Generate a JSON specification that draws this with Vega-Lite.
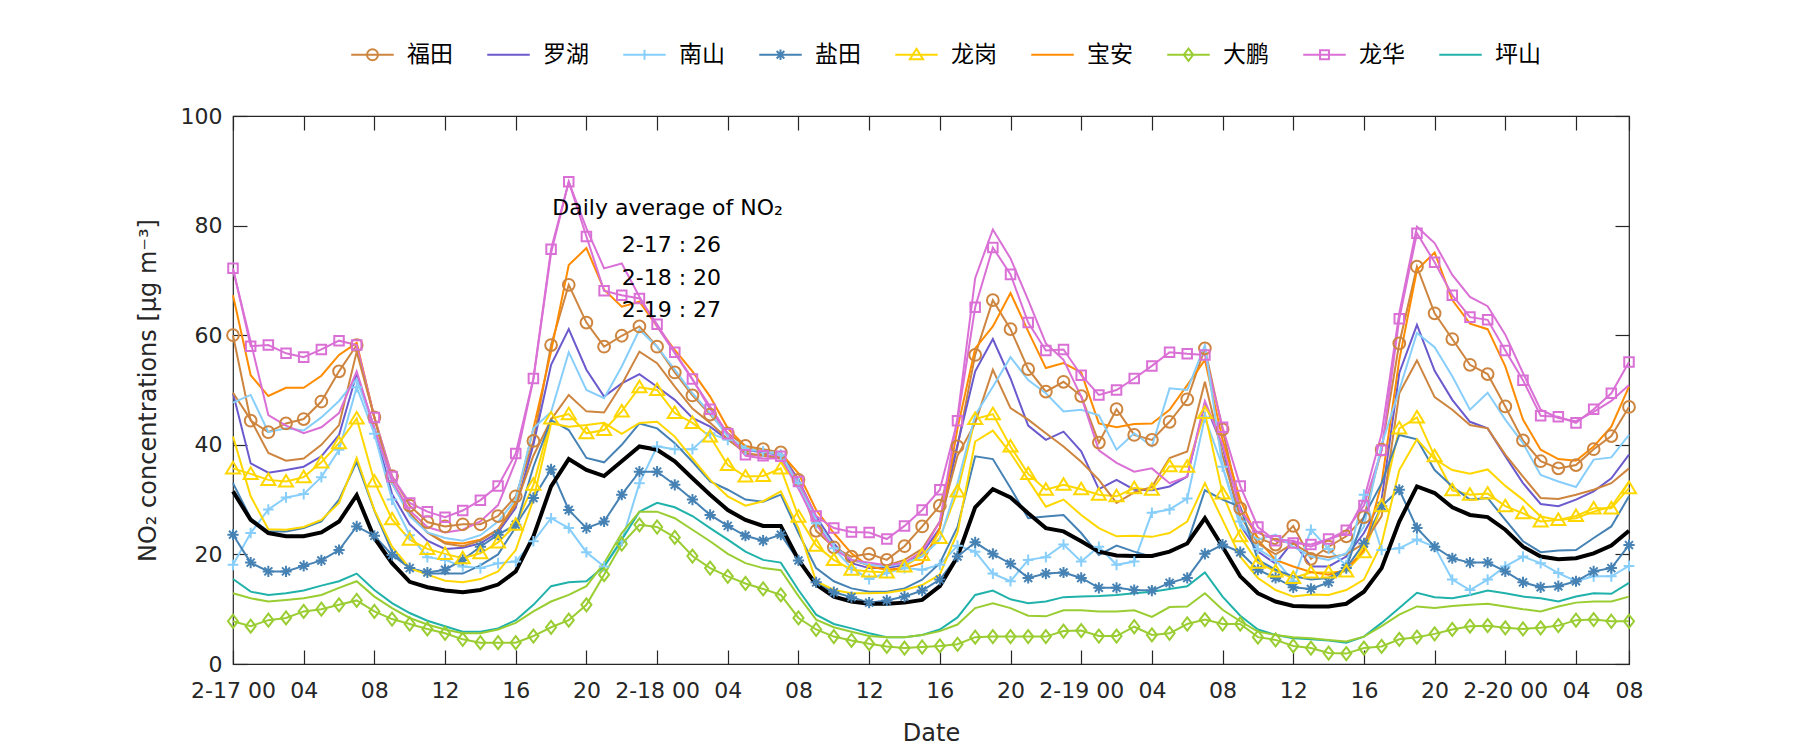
{
"$schema":"https://vega.github.io/schema/vega-lite/v6.json",
"width":1396,"height":548,
"autosize":{"type":"none"},
"padding":{"left":233,"top":116,"right":171,"bottom":86},
"background":"white",
"config":{"font":"DejaVu Sans","view":{"stroke":"#262626","strokeWidth":1.2},
"axis":{"labelFont":"DejaVu Sans","labelFontSize":22,"labelColor":"#262626","titleFont":"DejaVu Sans","titleFontSize":24,"titleFontWeight":"normal","titleColor":"#262626","tickColor":"#262626","tickWidth":1.2,"tickSize":-14,"domain":false,"grid":false,"labelOverlap":false}},
"data":{"values":[
{"s":"福田","h":0,"v":60.0},{"s":"福田","h":1,"v":44.4},{"s":"福田","h":2,"v":42.3},{"s":"福田","h":3,"v":43.9},{"s":"福田","h":4,"v":44.7},{"s":"福田","h":5,"v":47.9},{"s":"福田","h":6,"v":53.4},{"s":"福田","h":7,"v":58.2},{"s":"福田","h":8,"v":45.0},{"s":"福田","h":9,"v":34.3},
{"s":"福田","h":10,"v":28.9},{"s":"福田","h":11,"v":25.9},{"s":"福田","h":12,"v":25.1},{"s":"福田","h":13,"v":25.5},{"s":"福田","h":14,"v":25.5},{"s":"福田","h":15,"v":27.0},{"s":"福田","h":16,"v":30.6},{"s":"福田","h":17,"v":40.7},{"s":"福田","h":18,"v":58.2},{"s":"福田","h":19,"v":69.2},
{"s":"福田","h":20,"v":62.3},{"s":"福田","h":21,"v":57.9},{"s":"福田","h":22,"v":59.9},{"s":"福田","h":23,"v":61.6},{"s":"福田","h":24,"v":57.9},{"s":"福田","h":25,"v":53.2},{"s":"福田","h":26,"v":49.0},{"s":"福田","h":27,"v":45.5},{"s":"福田","h":28,"v":42.1},{"s":"福田","h":29,"v":39.8},
{"s":"福田","h":30,"v":39.2},{"s":"福田","h":31,"v":38.6},{"s":"福田","h":32,"v":33.6},{"s":"福田","h":33,"v":24.3},{"s":"福田","h":34,"v":21.3},{"s":"福田","h":35,"v":19.6},{"s":"福田","h":36,"v":20.1},{"s":"福田","h":37,"v":19.0},{"s":"福田","h":38,"v":21.5},{"s":"福田","h":39,"v":25.1},
{"s":"福田","h":40,"v":28.9},{"s":"福田","h":41,"v":39.7},{"s":"福田","h":42,"v":56.4},{"s":"福田","h":43,"v":66.4},{"s":"福田","h":44,"v":61.1},{"s":"福田","h":45,"v":53.8},{"s":"福田","h":46,"v":49.7},{"s":"福田","h":47,"v":51.5},{"s":"福田","h":48,"v":48.9},{"s":"福田","h":49,"v":40.4},
{"s":"福田","h":50,"v":46.5},{"s":"福田","h":51,"v":41.8},{"s":"福田","h":52,"v":40.9},{"s":"福田","h":53,"v":44.2},{"s":"福田","h":54,"v":48.3},{"s":"福田","h":55,"v":57.6},{"s":"福田","h":56,"v":42.8},{"s":"福田","h":57,"v":28.4},{"s":"福田","h":58,"v":23.0},{"s":"福田","h":59,"v":21.8},
{"s":"福田","h":60,"v":25.2},{"s":"福田","h":61,"v":19.2},{"s":"福田","h":62,"v":21.4},{"s":"福田","h":63,"v":23.3},{"s":"福田","h":64,"v":26.8},{"s":"福田","h":65,"v":39.1},{"s":"福田","h":66,"v":58.5},{"s":"福田","h":67,"v":72.5},{"s":"福田","h":68,"v":64.0},{"s":"福田","h":69,"v":59.3},
{"s":"福田","h":70,"v":54.6},{"s":"福田","h":71,"v":52.9},{"s":"福田","h":72,"v":47.0},{"s":"福田","h":73,"v":40.8},{"s":"福田","h":74,"v":37.0},{"s":"福田","h":75,"v":35.7},{"s":"福田","h":76,"v":36.3},{"s":"福田","h":77,"v":39.2},{"s":"福田","h":78,"v":41.6},{"s":"福田","h":79,"v":46.9},
{"s":"罗湖","h":0,"v":49.4},{"s":"罗湖","h":1,"v":36.6},{"s":"罗湖","h":2,"v":34.9},{"s":"罗湖","h":3,"v":35.4},{"s":"罗湖","h":4,"v":36.0},{"s":"罗湖","h":5,"v":37.9},{"s":"罗湖","h":6,"v":41.8},{"s":"罗湖","h":7,"v":53.0},{"s":"罗湖","h":8,"v":43},{"s":"罗湖","h":9,"v":31},
{"s":"罗湖","h":10,"v":25.5},{"s":"罗湖","h":11,"v":22.5},{"s":"罗湖","h":12,"v":21.0},{"s":"罗湖","h":13,"v":21.2},{"s":"罗湖","h":14,"v":22.0},{"s":"罗湖","h":15,"v":24.0},{"s":"罗湖","h":16,"v":28.5},{"s":"罗湖","h":17,"v":40},{"s":"罗湖","h":18,"v":54.6},{"s":"罗湖","h":19,"v":61.1},
{"s":"罗湖","h":20,"v":53.7},{"s":"罗湖","h":21,"v":48.8},{"s":"罗湖","h":22,"v":51.2},{"s":"罗湖","h":23,"v":52.9},{"s":"罗湖","h":24,"v":50.6},{"s":"罗湖","h":25,"v":48.2},{"s":"罗湖","h":26,"v":44.9},{"s":"罗湖","h":27,"v":43.3},{"s":"罗湖","h":28,"v":40.9},{"s":"罗湖","h":29,"v":39.1},
{"s":"罗湖","h":30,"v":38.6},{"s":"罗湖","h":31,"v":38.2},{"s":"罗湖","h":32,"v":33.6},{"s":"罗湖","h":33,"v":26.9},{"s":"罗湖","h":34,"v":22.0},{"s":"罗湖","h":35,"v":18.4},{"s":"罗湖","h":36,"v":17.5},{"s":"罗湖","h":37,"v":17.5},{"s":"罗湖","h":38,"v":18.1},{"s":"罗湖","h":39,"v":20.2},
{"s":"罗湖","h":40,"v":24.8},{"s":"罗湖","h":41,"v":40},{"s":"罗湖","h":42,"v":53.4},{"s":"罗湖","h":43,"v":59.3},{"s":"罗湖","h":44,"v":52.1},{"s":"罗湖","h":45,"v":43.5},{"s":"罗湖","h":46,"v":40.9},{"s":"罗湖","h":47,"v":42.4},{"s":"罗湖","h":48,"v":38.8},{"s":"罗湖","h":49,"v":31.9},
{"s":"罗湖","h":50,"v":33.6},{"s":"罗湖","h":51,"v":31.8},{"s":"罗湖","h":52,"v":31.7},{"s":"罗湖","h":53,"v":32.4},{"s":"罗湖","h":54,"v":34.2},{"s":"罗湖","h":55,"v":47.6},{"s":"罗湖","h":56,"v":39.7},{"s":"罗湖","h":57,"v":25.4},{"s":"罗湖","h":58,"v":20.5},{"s":"罗湖","h":59,"v":18.3},
{"s":"罗湖","h":60,"v":22.4},{"s":"罗湖","h":61,"v":17.8},{"s":"罗湖","h":62,"v":17.8},{"s":"罗湖","h":63,"v":19.6},{"s":"罗湖","h":64,"v":23.9},{"s":"罗湖","h":65,"v":30},{"s":"罗湖","h":66,"v":53.1},{"s":"罗湖","h":67,"v":61.9},{"s":"罗湖","h":68,"v":53.5},{"s":"罗湖","h":69,"v":48.2},
{"s":"罗湖","h":70,"v":44.2},{"s":"罗湖","h":71,"v":43.0},{"s":"罗湖","h":72,"v":37.9},{"s":"罗湖","h":73,"v":33.0},{"s":"罗湖","h":74,"v":29.2},{"s":"罗湖","h":75,"v":28.8},{"s":"罗湖","h":76,"v":30.0},{"s":"罗湖","h":77,"v":31.5},{"s":"罗湖","h":78,"v":33.9},{"s":"罗湖","h":79,"v":38.2},
{"s":"南山","h":0,"v":18.1},{"s":"南山","h":1,"v":23.9},{"s":"南山","h":2,"v":28.2},{"s":"南山","h":3,"v":30.4},{"s":"南山","h":4,"v":31.0},{"s":"南山","h":5,"v":34.1},{"s":"南山","h":6,"v":39.1},{"s":"南山","h":7,"v":50.5},{"s":"南山","h":8,"v":42},{"s":"南山","h":9,"v":30.0},
{"s":"南山","h":10,"v":23.5},{"s":"南山","h":11,"v":19.5},{"s":"南山","h":12,"v":19.0},{"s":"南山","h":13,"v":17.8},{"s":"南山","h":14,"v":17.5},{"s":"南山","h":15,"v":18.4},{"s":"南山","h":16,"v":18.7},{"s":"南山","h":17,"v":22.4},{"s":"南山","h":18,"v":26.6},{"s":"南山","h":19,"v":24.8},
{"s":"南山","h":20,"v":20.4},{"s":"南山","h":21,"v":17.8},{"s":"南山","h":22,"v":22.4},{"s":"南山","h":23,"v":33.0},{"s":"南山","h":24,"v":39.7},{"s":"南山","h":25,"v":39.2},{"s":"南山","h":26,"v":39.2},{"s":"南山","h":27,"v":42.1},{"s":"南山","h":28,"v":40.9},{"s":"南山","h":29,"v":39.1},
{"s":"南山","h":30,"v":38.8},{"s":"南山","h":31,"v":38.2},{"s":"南山","h":32,"v":33.0},{"s":"南山","h":33,"v":25.7},{"s":"南山","h":34,"v":21.1},{"s":"南山","h":35,"v":17.5},{"s":"南山","h":36,"v":15.5},{"s":"南山","h":37,"v":16.6},{"s":"南山","h":38,"v":17.5},{"s":"南山","h":39,"v":17.2},
{"s":"南山","h":40,"v":18.1},{"s":"南山","h":41,"v":21.6},{"s":"南山","h":42,"v":20.5},{"s":"南山","h":43,"v":16.5},{"s":"南山","h":44,"v":15.1},{"s":"南山","h":45,"v":19.0},{"s":"南山","h":46,"v":19.5},{"s":"南山","h":47,"v":21.8},{"s":"南山","h":48,"v":18.7},{"s":"南山","h":49,"v":21.4},
{"s":"南山","h":50,"v":18.1},{"s":"南山","h":51,"v":18.7},{"s":"南山","h":52,"v":27.6},{"s":"南山","h":53,"v":28.2},{"s":"南山","h":54,"v":30.2},{"s":"南山","h":55,"v":45},{"s":"南山","h":56,"v":36},{"s":"南山","h":57,"v":26},{"s":"南山","h":58,"v":21},{"s":"南山","h":59,"v":19},
{"s":"南山","h":60,"v":15.1},{"s":"南山","h":61,"v":24.5},{"s":"南山","h":62,"v":21},{"s":"南山","h":63,"v":18},{"s":"南山","h":64,"v":30.9},{"s":"南山","h":65,"v":20.8},{"s":"南山","h":66,"v":21.1},{"s":"南山","h":67,"v":22.7},{"s":"南山","h":68,"v":21.4},{"s":"南山","h":69,"v":15.4},
{"s":"南山","h":70,"v":13.5},{"s":"南山","h":71,"v":15.4},{"s":"南山","h":72,"v":17.8},{"s":"南山","h":73,"v":19.6},{"s":"南山","h":74,"v":18.4},{"s":"南山","h":75,"v":16.6},{"s":"南山","h":76,"v":15.1},{"s":"南山","h":77,"v":16.0},{"s":"南山","h":78,"v":16.0},{"s":"南山","h":79,"v":17.9},
{"s":"盐田","h":0,"v":23.6},{"s":"盐田","h":1,"v":18.5},{"s":"盐田","h":2,"v":16.9},{"s":"盐田","h":3,"v":16.9},{"s":"盐田","h":4,"v":17.9},{"s":"盐田","h":5,"v":18.9},{"s":"盐田","h":6,"v":20.8},{"s":"盐田","h":7,"v":25.1},{"s":"盐田","h":8,"v":23.4},{"s":"盐田","h":9,"v":19.9},
{"s":"盐田","h":10,"v":17.5},{"s":"盐田","h":11,"v":16.7},{"s":"盐田","h":12,"v":17.2},{"s":"盐田","h":13,"v":19.0},{"s":"盐田","h":14,"v":21.4},{"s":"盐田","h":15,"v":23.6},{"s":"盐田","h":16,"v":25.4},{"s":"盐田","h":17,"v":30.3},{"s":"盐田","h":18,"v":35.5},{"s":"盐田","h":19,"v":28.1},
{"s":"盐田","h":20,"v":24.8},{"s":"盐田","h":21,"v":26.0},{"s":"盐田","h":22,"v":30.9},{"s":"盐田","h":23,"v":35.1},{"s":"盐田","h":24,"v":35.1},{"s":"盐田","h":25,"v":32.7},{"s":"盐田","h":26,"v":30.0},{"s":"盐田","h":27,"v":27.2},{"s":"盐田","h":28,"v":25.2},{"s":"盐田","h":29,"v":23.4},
{"s":"盐田","h":30,"v":22.5},{"s":"盐田","h":31,"v":23.6},{"s":"盐田","h":32,"v":18.9},{"s":"盐田","h":33,"v":14.9},{"s":"盐田","h":34,"v":13.1},{"s":"盐田","h":35,"v":12.2},{"s":"盐田","h":36,"v":11.2},{"s":"盐田","h":37,"v":11.6},{"s":"盐田","h":38,"v":12.3},{"s":"盐田","h":39,"v":13.4},
{"s":"盐田","h":40,"v":15.4},{"s":"盐田","h":41,"v":19.6},{"s":"盐田","h":42,"v":22.2},{"s":"盐田","h":43,"v":20.1},{"s":"盐田","h":44,"v":18.3},{"s":"盐田","h":45,"v":15.7},{"s":"盐田","h":46,"v":16.5},{"s":"盐田","h":47,"v":16.7},{"s":"盐田","h":48,"v":15.7},{"s":"盐田","h":49,"v":13.9},
{"s":"盐田","h":50,"v":13.9},{"s":"盐田","h":51,"v":13.5},{"s":"盐田","h":52,"v":13.4},{"s":"盐田","h":53,"v":14.8},{"s":"盐田","h":54,"v":15.7},{"s":"盐田","h":55,"v":20.1},{"s":"盐田","h":56,"v":21.8},{"s":"盐田","h":57,"v":20.4},{"s":"盐田","h":58,"v":17.2},{"s":"盐田","h":59,"v":15.7},
{"s":"盐田","h":60,"v":14.0},{"s":"盐田","h":61,"v":13.7},{"s":"盐田","h":62,"v":14.9},{"s":"盐田","h":63,"v":17.5},{"s":"盐田","h":64,"v":22},{"s":"盐田","h":65,"v":28.8},{"s":"盐田","h":66,"v":31.8},{"s":"盐田","h":67,"v":24.8},{"s":"盐田","h":68,"v":21.4},{"s":"盐田","h":69,"v":19.3},
{"s":"盐田","h":70,"v":18.5},{"s":"盐田","h":71,"v":18.5},{"s":"盐田","h":72,"v":16.9},{"s":"盐田","h":73,"v":14.9},{"s":"盐田","h":74,"v":14.0},{"s":"盐田","h":75,"v":14.2},{"s":"盐田","h":76,"v":15.1},{"s":"盐田","h":77,"v":16.9},{"s":"盐田","h":78,"v":17.5},{"s":"盐田","h":79,"v":21.7},
{"s":"龙岗","h":0,"v":35.7},{"s":"龙岗","h":1,"v":34.7},{"s":"龙岗","h":2,"v":33.6},{"s":"龙岗","h":3,"v":33.3},{"s":"龙岗","h":4,"v":34.1},{"s":"龙岗","h":5,"v":36.8},{"s":"龙岗","h":6,"v":40.3},{"s":"龙岗","h":7,"v":44.8},{"s":"龙岗","h":8,"v":33.3},{"s":"龙岗","h":9,"v":26.4},
{"s":"龙岗","h":10,"v":22.7},{"s":"龙岗","h":11,"v":21.0},{"s":"龙岗","h":12,"v":20.1},{"s":"龙岗","h":13,"v":19.3},{"s":"龙岗","h":14,"v":20.2},{"s":"龙岗","h":15,"v":22.2},{"s":"龙岗","h":16,"v":25.4},{"s":"龙岗","h":17,"v":32.7},{"s":"龙岗","h":18,"v":44.8},{"s":"龙岗","h":19,"v":45.6},
{"s":"龙岗","h":20,"v":42.1},{"s":"龙岗","h":21,"v":42.7},{"s":"龙岗","h":22,"v":46.1},{"s":"龙岗","h":23,"v":50.5},{"s":"龙岗","h":24,"v":50.0},{"s":"龙岗","h":25,"v":45.8},{"s":"龙岗","h":26,"v":44.0},{"s":"龙岗","h":27,"v":41.5},{"s":"龙岗","h":28,"v":36.3},{"s":"龙岗","h":29,"v":34.2},
{"s":"龙岗","h":30,"v":34.3},{"s":"龙岗","h":31,"v":35.7},{"s":"龙岗","h":32,"v":26.9},{"s":"龙岗","h":33,"v":21.6},{"s":"龙岗","h":34,"v":19.0},{"s":"龙岗","h":35,"v":17.2},{"s":"龙岗","h":36,"v":16.9},{"s":"龙岗","h":37,"v":16.7},{"s":"龙岗","h":38,"v":17.8},{"s":"龙岗","h":39,"v":19.9},
{"s":"龙岗","h":40,"v":23.0},{"s":"龙岗","h":41,"v":31.5},{"s":"龙岗","h":42,"v":44.7},{"s":"龙岗","h":43,"v":45.6},{"s":"龙岗","h":44,"v":39.7},{"s":"龙岗","h":45,"v":34.7},{"s":"龙岗","h":46,"v":31.8},{"s":"龙岗","h":47,"v":32.7},{"s":"龙岗","h":48,"v":31.9},{"s":"龙岗","h":49,"v":30.9},
{"s":"龙岗","h":50,"v":30.6},{"s":"龙岗","h":51,"v":32.1},{"s":"龙岗","h":52,"v":31.8},{"s":"龙岗","h":53,"v":36.1},{"s":"龙岗","h":54,"v":36.0},{"s":"龙岗","h":55,"v":45.8},{"s":"龙岗","h":56,"v":31.1},{"s":"龙岗","h":57,"v":23.3},{"s":"龙岗","h":58,"v":18.5},{"s":"龙岗","h":59,"v":16.9},
{"s":"龙岗","h":60,"v":15.7},{"s":"龙岗","h":61,"v":16.7},{"s":"龙岗","h":62,"v":16.7},{"s":"龙岗","h":63,"v":16.9},{"s":"龙岗","h":64,"v":20.4},{"s":"龙岗","h":65,"v":28.8},{"s":"龙岗","h":66,"v":43.0},{"s":"龙岗","h":67,"v":45.0},{"s":"龙岗","h":68,"v":37.9},{"s":"龙岗","h":69,"v":31.7},
{"s":"龙岗","h":70,"v":30.9},{"s":"龙岗","h":71,"v":31.1},{"s":"龙岗","h":72,"v":28.8},{"s":"龙岗","h":73,"v":27.5},{"s":"龙岗","h":74,"v":26.0},{"s":"龙岗","h":75,"v":26.3},{"s":"龙岗","h":76,"v":27.0},{"s":"龙岗","h":77,"v":28.4},{"s":"龙岗","h":78,"v":28.4},{"s":"龙岗","h":79,"v":32.1},
{"s":"宝安","h":0,"v":67.3},{"s":"宝安","h":1,"v":52.7},{"s":"宝安","h":2,"v":48.9},{"s":"宝安","h":3,"v":50.4},{"s":"宝安","h":4,"v":50.4},{"s":"宝安","h":5,"v":52.6},{"s":"宝安","h":6,"v":56.4},{"s":"宝安","h":7,"v":58.6},{"s":"宝安","h":8,"v":45},{"s":"宝安","h":9,"v":33},
{"s":"宝安","h":10,"v":27.5},{"s":"宝安","h":11,"v":24},{"s":"宝安","h":12,"v":22.2},{"s":"宝安","h":13,"v":22.0},{"s":"宝安","h":14,"v":22.7},{"s":"宝安","h":15,"v":24.5},{"s":"宝安","h":16,"v":29.5},{"s":"宝安","h":17,"v":43},{"s":"宝安","h":18,"v":57.0},{"s":"宝安","h":19,"v":72.8},
{"s":"宝安","h":20,"v":75.9},{"s":"宝安","h":21,"v":68.3},{"s":"宝安","h":22,"v":65.2},{"s":"宝安","h":23,"v":66.1},{"s":"宝安","h":24,"v":61.6},{"s":"宝安","h":25,"v":57.3},{"s":"宝安","h":26,"v":53.4},{"s":"宝安","h":27,"v":48.8},{"s":"宝安","h":28,"v":43},{"s":"宝安","h":29,"v":39.7},
{"s":"宝安","h":30,"v":38.8},{"s":"宝安","h":31,"v":38.5},{"s":"宝安","h":32,"v":34.8},{"s":"宝安","h":33,"v":28.1},{"s":"宝安","h":34,"v":23.9},{"s":"宝安","h":35,"v":20.2},{"s":"宝安","h":36,"v":17.8},{"s":"宝安","h":37,"v":17.2},{"s":"宝安","h":38,"v":17.5},{"s":"宝安","h":39,"v":18.4},
{"s":"宝安","h":40,"v":24.8},{"s":"宝安","h":41,"v":43},{"s":"宝安","h":42,"v":57.6},{"s":"宝安","h":43,"v":61.6},{"s":"宝安","h":44,"v":67.7},{"s":"宝安","h":45,"v":60.7},{"s":"宝安","h":46,"v":54.0},{"s":"宝安","h":47,"v":54.9},{"s":"宝安","h":48,"v":53.2},{"s":"宝安","h":49,"v":43.9},
{"s":"宝安","h":50,"v":43.2},{"s":"宝安","h":51,"v":43.8},{"s":"宝安","h":52,"v":43.9},{"s":"宝安","h":53,"v":46.4},{"s":"宝安","h":54,"v":50.9},{"s":"宝安","h":55,"v":55.5},{"s":"宝安","h":56,"v":40.9},{"s":"宝安","h":57,"v":30},{"s":"宝安","h":58,"v":22.7},{"s":"宝安","h":59,"v":19.0},
{"s":"宝安","h":60,"v":17.8},{"s":"宝安","h":61,"v":16.8},{"s":"宝安","h":62,"v":16.3},{"s":"宝安","h":63,"v":17.2},{"s":"宝安","h":64,"v":20.8},{"s":"宝安","h":65,"v":33.0},{"s":"宝安","h":66,"v":55.5},{"s":"宝安","h":67,"v":71.9},{"s":"宝安","h":68,"v":75.1},{"s":"宝安","h":69,"v":66.4},
{"s":"宝安","h":70,"v":62.1},{"s":"宝安","h":71,"v":61.1},{"s":"宝安","h":72,"v":54.3},{"s":"宝安","h":73,"v":44.6},{"s":"宝安","h":74,"v":39.1},{"s":"宝安","h":75,"v":37.4},{"s":"宝安","h":76,"v":37.1},{"s":"宝安","h":77,"v":39.7},{"s":"宝安","h":78,"v":43.3},{"s":"宝安","h":79,"v":50.6},
{"s":"大鹏","h":0,"v":7.8},{"s":"大鹏","h":1,"v":6.9},{"s":"大鹏","h":2,"v":8.0},{"s":"大鹏","h":3,"v":8.4},{"s":"大鹏","h":4,"v":9.6},{"s":"大鹏","h":5,"v":10.0},{"s":"大鹏","h":6,"v":10.8},{"s":"大鹏","h":7,"v":11.6},{"s":"大鹏","h":8,"v":9.6},{"s":"大鹏","h":9,"v":8.2},
{"s":"大鹏","h":10,"v":7.3},{"s":"大鹏","h":11,"v":6.4},{"s":"大鹏","h":12,"v":5.6},{"s":"大鹏","h":13,"v":4.5},{"s":"大鹏","h":14,"v":3.9},{"s":"大鹏","h":15,"v":3.9},{"s":"大鹏","h":16,"v":3.9},{"s":"大鹏","h":17,"v":5.1},{"s":"大鹏","h":18,"v":6.7},{"s":"大鹏","h":19,"v":8.0},
{"s":"大鹏","h":20,"v":10.8},{"s":"大鹏","h":21,"v":16.3},{"s":"大鹏","h":22,"v":21.9},{"s":"大鹏","h":23,"v":25.4},{"s":"大鹏","h":24,"v":25.0},{"s":"大鹏","h":25,"v":23.1},{"s":"大鹏","h":26,"v":19.7},{"s":"大鹏","h":27,"v":17.5},{"s":"大鹏","h":28,"v":16.0},{"s":"大鹏","h":29,"v":14.7},
{"s":"大鹏","h":30,"v":13.7},{"s":"大鹏","h":31,"v":12.6},{"s":"大鹏","h":32,"v":8.4},{"s":"大鹏","h":33,"v":6.3},{"s":"大鹏","h":34,"v":5.0},{"s":"大鹏","h":35,"v":4.3},{"s":"大鹏","h":36,"v":3.7},{"s":"大鹏","h":37,"v":3.2},{"s":"大鹏","h":38,"v":2.9},{"s":"大鹏","h":39,"v":3.1},
{"s":"大鹏","h":40,"v":3.3},{"s":"大鹏","h":41,"v":3.6},{"s":"大鹏","h":42,"v":4.9},{"s":"大鹏","h":43,"v":5.0},{"s":"大鹏","h":44,"v":5.0},{"s":"大鹏","h":45,"v":5.0},{"s":"大鹏","h":46,"v":5.0},{"s":"大鹏","h":47,"v":6.0},{"s":"大鹏","h":48,"v":6.1},{"s":"大鹏","h":49,"v":5.1},
{"s":"大鹏","h":50,"v":5.1},{"s":"大鹏","h":51,"v":6.8},{"s":"大鹏","h":52,"v":5.3},{"s":"大鹏","h":53,"v":5.6},{"s":"大鹏","h":54,"v":7.3},{"s":"大鹏","h":55,"v":8.1},{"s":"大鹏","h":56,"v":7.3},{"s":"大鹏","h":57,"v":7.3},{"s":"大鹏","h":58,"v":4.9},{"s":"大鹏","h":59,"v":4.4},
{"s":"大鹏","h":60,"v":3.3},{"s":"大鹏","h":61,"v":2.9},{"s":"大鹏","h":62,"v":2.0},{"s":"大鹏","h":63,"v":1.9},{"s":"大鹏","h":64,"v":2.9},{"s":"大鹏","h":65,"v":3.2},{"s":"大鹏","h":66,"v":4.5},{"s":"大鹏","h":67,"v":4.9},{"s":"大鹏","h":68,"v":5.5},{"s":"大鹏","h":69,"v":6.3},
{"s":"大鹏","h":70,"v":6.9},{"s":"大鹏","h":71,"v":7.0},{"s":"大鹏","h":72,"v":6.6},{"s":"大鹏","h":73,"v":6.4},{"s":"大鹏","h":74,"v":6.6},{"s":"大鹏","h":75,"v":7.0},{"s":"大鹏","h":76,"v":8.0},{"s":"大鹏","h":77,"v":8.1},{"s":"大鹏","h":78,"v":7.8},{"s":"大鹏","h":79,"v":7.8},
{"s":"龙华","h":0,"v":72.2},{"s":"龙华","h":1,"v":58.0},{"s":"龙华","h":2,"v":58.2},{"s":"龙华","h":3,"v":56.7},{"s":"龙华","h":4,"v":56.0},{"s":"龙华","h":5,"v":57.4},{"s":"龙华","h":6,"v":59.0},{"s":"龙华","h":7,"v":58.2},{"s":"龙华","h":8,"v":45},{"s":"龙华","h":9,"v":34.2},
{"s":"龙华","h":10,"v":29.4},{"s":"龙华","h":11,"v":27.8},{"s":"龙华","h":12,"v":26.8},{"s":"龙华","h":13,"v":28.0},{"s":"龙华","h":14,"v":29.9},{"s":"龙华","h":15,"v":32.5},{"s":"龙华","h":16,"v":38.4},{"s":"龙华","h":17,"v":52.1},{"s":"龙华","h":18,"v":75.7},{"s":"龙华","h":19,"v":88.0},
{"s":"龙华","h":20,"v":78.0},{"s":"龙华","h":21,"v":68.1},{"s":"龙华","h":22,"v":67.3},{"s":"龙华","h":23,"v":66.7},{"s":"龙华","h":24,"v":62.0},{"s":"龙华","h":25,"v":56.9},{"s":"龙华","h":26,"v":52.0},{"s":"龙华","h":27,"v":46.5},{"s":"龙华","h":28,"v":42},{"s":"龙华","h":29,"v":38.2},
{"s":"龙华","h":30,"v":38.0},{"s":"龙华","h":31,"v":37.9},{"s":"龙华","h":32,"v":33.3},{"s":"龙华","h":33,"v":27.0},{"s":"龙华","h":34,"v":24.8},{"s":"龙华","h":35,"v":24.1},{"s":"龙华","h":36,"v":24.0},{"s":"龙华","h":37,"v":22.8},{"s":"龙华","h":38,"v":25.2},{"s":"龙华","h":39,"v":28.1},
{"s":"龙华","h":40,"v":31.8},{"s":"龙华","h":41,"v":44.4},{"s":"龙华","h":42,"v":65.1},{"s":"龙华","h":43,"v":76.0},{"s":"龙华","h":44,"v":71.1},{"s":"龙华","h":45,"v":62.3},{"s":"龙华","h":46,"v":57.2},{"s":"龙华","h":47,"v":57.4},{"s":"龙华","h":48,"v":52.7},{"s":"龙华","h":49,"v":49.1},
{"s":"龙华","h":50,"v":50.0},{"s":"龙华","h":51,"v":52.1},{"s":"龙华","h":52,"v":54.4},{"s":"龙华","h":53,"v":56.9},{"s":"龙华","h":54,"v":56.6},{"s":"龙华","h":55,"v":56.4},{"s":"龙华","h":56,"v":43.2},{"s":"龙华","h":57,"v":32.5},{"s":"龙华","h":58,"v":25.0},{"s":"龙华","h":59,"v":22.5},
{"s":"龙华","h":60,"v":22.1},{"s":"龙华","h":61,"v":21.8},{"s":"龙华","h":62,"v":22.8},{"s":"龙华","h":63,"v":24.4},{"s":"龙华","h":64,"v":28.9},{"s":"龙华","h":65,"v":39},{"s":"龙华","h":66,"v":63.0},{"s":"龙华","h":67,"v":78.6},{"s":"龙华","h":68,"v":73.3},{"s":"龙华","h":69,"v":67.3},
{"s":"龙华","h":70,"v":63.3},{"s":"龙华","h":71,"v":62.8},{"s":"龙华","h":72,"v":57.2},{"s":"龙华","h":73,"v":51.8},{"s":"龙华","h":74,"v":45.3},{"s":"龙华","h":75,"v":45.1},{"s":"龙华","h":76,"v":44.0},{"s":"龙华","h":77,"v":46.5},{"s":"龙华","h":78,"v":49.4},{"s":"龙华","h":79,"v":55.1},
{"s":"坪山","h":0,"v":15.5},{"s":"坪山","h":1,"v":13.2},{"s":"坪山","h":2,"v":12.6},{"s":"坪山","h":3,"v":12.9},{"s":"坪山","h":4,"v":13.4},{"s":"坪山","h":5,"v":14.3},{"s":"坪山","h":6,"v":15.1},{"s":"坪山","h":7,"v":16.5},{"s":"坪山","h":8,"v":13.5},{"s":"坪山","h":9,"v":11.1},
{"s":"坪山","h":10,"v":9.3},{"s":"坪山","h":11,"v":7.9},{"s":"坪山","h":12,"v":6.9},{"s":"坪山","h":13,"v":5.9},{"s":"坪山","h":14,"v":5.9},{"s":"坪山","h":15,"v":6.5},{"s":"坪山","h":16,"v":8.0},{"s":"坪山","h":17,"v":10.8},{"s":"坪山","h":18,"v":14.2},{"s":"坪山","h":19,"v":14.9},
{"s":"坪山","h":20,"v":15.1},{"s":"坪山","h":21,"v":17.8},{"s":"坪山","h":22,"v":22.7},{"s":"坪山","h":23,"v":27.8},{"s":"坪山","h":24,"v":29.4},{"s":"坪山","h":25,"v":28.6},{"s":"坪山","h":26,"v":27.0},{"s":"坪山","h":27,"v":24.8},{"s":"坪山","h":28,"v":22.7},{"s":"坪山","h":29,"v":20.5},
{"s":"坪山","h":30,"v":19.0},{"s":"坪山","h":31,"v":18.5},{"s":"坪山","h":32,"v":13.5},{"s":"坪山","h":33,"v":9.0},{"s":"坪山","h":34,"v":7.3},{"s":"坪山","h":35,"v":6.5},{"s":"坪山","h":36,"v":5.6},{"s":"坪山","h":37,"v":4.9},{"s":"坪山","h":38,"v":4.9},{"s":"坪山","h":39,"v":5.3},
{"s":"坪山","h":40,"v":6.3},{"s":"坪山","h":41,"v":8.5},{"s":"坪山","h":42,"v":12.6},{"s":"坪山","h":43,"v":13.4},{"s":"坪山","h":44,"v":11.8},{"s":"坪山","h":45,"v":11.1},{"s":"坪山","h":46,"v":11.4},{"s":"坪山","h":47,"v":12.2},{"s":"坪山","h":48,"v":12.3},{"s":"坪山","h":49,"v":12.4},
{"s":"坪山","h":50,"v":12.6},{"s":"坪山","h":51,"v":12.9},{"s":"坪山","h":52,"v":13.2},{"s":"坪山","h":53,"v":13.7},{"s":"坪山","h":54,"v":14.2},{"s":"坪山","h":55,"v":16.7},{"s":"坪山","h":56,"v":12.3},{"s":"坪山","h":57,"v":8.8},{"s":"坪山","h":58,"v":6.3},{"s":"坪山","h":59,"v":5.3},
{"s":"坪山","h":60,"v":4.7},{"s":"坪山","h":61,"v":4.5},{"s":"坪山","h":62,"v":4.3},{"s":"坪山","h":63,"v":3.9},{"s":"坪山","h":64,"v":5.0},{"s":"坪山","h":65,"v":7.5},{"s":"坪山","h":66,"v":10.2},{"s":"坪山","h":67,"v":13.0},{"s":"坪山","h":68,"v":12.2},{"s":"坪山","h":69,"v":12.0},
{"s":"坪山","h":70,"v":12.6},{"s":"坪山","h":71,"v":13.4},{"s":"坪山","h":72,"v":12.9},{"s":"坪山","h":73,"v":12.3},{"s":"坪山","h":74,"v":12.0},{"s":"坪山","h":75,"v":11.4},{"s":"坪山","h":76,"v":12.3},{"s":"坪山","h":77,"v":12.9},{"s":"坪山","h":78,"v":12.8},{"s":"坪山","h":79,"v":14.8},
{"s":"福田-2","h":0,"v":49.5},{"s":"福田-2","h":1,"v":44.6},{"s":"福田-2","h":2,"v":38.5},{"s":"福田-2","h":3,"v":37.1},{"s":"福田-2","h":4,"v":37.5},{"s":"福田-2","h":5,"v":40.0},{"s":"福田-2","h":6,"v":43.6},{"s":"福田-2","h":7,"v":57},{"s":"福田-2","h":8,"v":45},{"s":"福田-2","h":9,"v":33},
{"s":"福田-2","h":10,"v":27.5},{"s":"福田-2","h":11,"v":24},{"s":"福田-2","h":12,"v":22},{"s":"福田-2","h":13,"v":21.5},{"s":"福田-2","h":14,"v":22.5},{"s":"福田-2","h":15,"v":24.5},{"s":"福田-2","h":16,"v":29},{"s":"福田-2","h":17,"v":38},{"s":"福田-2","h":18,"v":44.6},{"s":"福田-2","h":19,"v":49.1},
{"s":"福田-2","h":20,"v":46.1},{"s":"福田-2","h":21,"v":45.9},{"s":"福田-2","h":22,"v":51},{"s":"福田-2","h":23,"v":57.0},{"s":"福田-2","h":24,"v":54.9},{"s":"福田-2","h":25,"v":50.6},{"s":"福田-2","h":26,"v":46.6},{"s":"福田-2","h":27,"v":44},{"s":"福田-2","h":28,"v":41},{"s":"福田-2","h":29,"v":38.5},
{"s":"福田-2","h":30,"v":38},{"s":"福田-2","h":31,"v":37.5},{"s":"福田-2","h":32,"v":32.5},{"s":"福田-2","h":33,"v":26},{"s":"福田-2","h":34,"v":21.5},{"s":"福田-2","h":35,"v":19},{"s":"福田-2","h":36,"v":18},{"s":"福田-2","h":37,"v":18},{"s":"福田-2","h":38,"v":19},{"s":"福田-2","h":39,"v":21},
{"s":"福田-2","h":40,"v":26},{"s":"福田-2","h":41,"v":38},{"s":"福田-2","h":42,"v":44},{"s":"福田-2","h":43,"v":53.7},{"s":"福田-2","h":44,"v":46.7},{"s":"福田-2","h":45,"v":44.6},{"s":"福田-2","h":46,"v":42.1},{"s":"福田-2","h":47,"v":39.7},{"s":"福田-2","h":48,"v":36.9},{"s":"福田-2","h":49,"v":33.6},
{"s":"福田-2","h":50,"v":29.4},{"s":"福田-2","h":51,"v":31.3},{"s":"福田-2","h":52,"v":32.3},{"s":"福田-2","h":53,"v":37.6},{"s":"福田-2","h":54,"v":38.8},{"s":"福田-2","h":55,"v":51.5},{"s":"福田-2","h":56,"v":38},{"s":"福田-2","h":57,"v":27},{"s":"福田-2","h":58,"v":22},{"s":"福田-2","h":59,"v":20},
{"s":"福田-2","h":60,"v":22},{"s":"福田-2","h":61,"v":20},{"s":"福田-2","h":62,"v":19.5},{"s":"福田-2","h":63,"v":20},{"s":"福田-2","h":64,"v":22},{"s":"福田-2","h":65,"v":27},{"s":"福田-2","h":66,"v":49.4},{"s":"福田-2","h":67,"v":55.4},{"s":"福田-2","h":68,"v":48.7},{"s":"福田-2","h":69,"v":46.4},
{"s":"福田-2","h":70,"v":43.6},{"s":"福田-2","h":71,"v":43.0},{"s":"福田-2","h":72,"v":38.2},{"s":"福田-2","h":73,"v":34.2},{"s":"福田-2","h":74,"v":30.3},{"s":"福田-2","h":75,"v":30.1},{"s":"福田-2","h":76,"v":30.9},{"s":"福田-2","h":77,"v":31.8},{"s":"福田-2","h":78,"v":33.0},{"s":"福田-2","h":79,"v":35.7},
{"s":"南山-2","h":0,"v":47.7},{"s":"南山-2","h":1,"v":49.1},{"s":"南山-2","h":2,"v":42.3},{"s":"南山-2","h":3,"v":43},{"s":"南山-2","h":4,"v":42.6},{"s":"南山-2","h":5,"v":45.0},{"s":"南山-2","h":6,"v":48},{"s":"南山-2","h":7,"v":52},{"s":"南山-2","h":8,"v":43},{"s":"南山-2","h":9,"v":33},
{"s":"南山-2","h":10,"v":27},{"s":"南山-2","h":11,"v":24},{"s":"南山-2","h":12,"v":23},{"s":"南山-2","h":13,"v":22.5},{"s":"南山-2","h":14,"v":23.5},{"s":"南山-2","h":15,"v":26},{"s":"南山-2","h":16,"v":30},{"s":"南山-2","h":17,"v":43},{"s":"南山-2","h":18,"v":46},{"s":"南山-2","h":19,"v":56.9},
{"s":"南山-2","h":20,"v":50},{"s":"南山-2","h":21,"v":48.5},{"s":"南山-2","h":22,"v":54.3},{"s":"南山-2","h":23,"v":61.0},{"s":"南山-2","h":24,"v":57.9},{"s":"南山-2","h":25,"v":53.7},{"s":"南山-2","h":26,"v":49.4},{"s":"南山-2","h":27,"v":45.8},{"s":"南山-2","h":28,"v":41.5},{"s":"南山-2","h":29,"v":39.4},
{"s":"南山-2","h":30,"v":38.8},{"s":"南山-2","h":31,"v":38.5},{"s":"南山-2","h":32,"v":32.4},{"s":"南山-2","h":33,"v":26.3},{"s":"南山-2","h":34,"v":21.4},{"s":"南山-2","h":35,"v":19.0},{"s":"南山-2","h":36,"v":18.1},{"s":"南山-2","h":37,"v":17.8},{"s":"南山-2","h":38,"v":18.4},{"s":"南山-2","h":39,"v":19.6},
{"s":"南山-2","h":40,"v":22.7},{"s":"南山-2","h":41,"v":33},{"s":"南山-2","h":42,"v":45.4},{"s":"南山-2","h":43,"v":50.6},{"s":"南山-2","h":44,"v":56.0},{"s":"南山-2","h":45,"v":51.8},{"s":"南山-2","h":46,"v":49.4},{"s":"南山-2","h":47,"v":46.1},{"s":"南山-2","h":48,"v":46.4},{"s":"南山-2","h":49,"v":45.4},
{"s":"南山-2","h":50,"v":39.1},{"s":"南山-2","h":51,"v":42.1},{"s":"南山-2","h":52,"v":39.7},{"s":"南山-2","h":53,"v":50.3},{"s":"南山-2","h":54,"v":50.0},{"s":"南山-2","h":55,"v":58.2},{"s":"南山-2","h":56,"v":36},{"s":"南山-2","h":57,"v":25.1},{"s":"南山-2","h":58,"v":22.7},{"s":"南山-2","h":59,"v":23.6},
{"s":"南山-2","h":60,"v":21.4},{"s":"南山-2","h":61,"v":19.6},{"s":"南山-2","h":62,"v":19.0},{"s":"南山-2","h":63,"v":20.2},{"s":"南山-2","h":64,"v":25.1},{"s":"南山-2","h":65,"v":40},{"s":"南山-2","h":66,"v":50},{"s":"南山-2","h":67,"v":60.4},{"s":"南山-2","h":68,"v":57.8},{"s":"南山-2","h":69,"v":52.5},
{"s":"南山-2","h":70,"v":46.4},{"s":"南山-2","h":71,"v":49.5},{"s":"南山-2","h":72,"v":44.6},{"s":"南山-2","h":73,"v":40.3},{"s":"南山-2","h":74,"v":34.5},{"s":"南山-2","h":75,"v":33.3},{"s":"南山-2","h":76,"v":32.3},{"s":"南山-2","h":77,"v":37.3},{"s":"南山-2","h":78,"v":37.7},{"s":"南山-2","h":79,"v":41.8},
{"s":"盐田-2","h":0,"v":33.0},{"s":"盐田-2","h":1,"v":26.6},{"s":"盐田-2","h":2,"v":24.2},{"s":"盐田-2","h":3,"v":24.2},{"s":"盐田-2","h":4,"v":24.8},{"s":"盐田-2","h":5,"v":26.0},{"s":"盐田-2","h":6,"v":30.0},{"s":"盐田-2","h":7,"v":36.9},{"s":"盐田-2","h":8,"v":28},{"s":"盐田-2","h":9,"v":20.5},
{"s":"盐田-2","h":10,"v":17.5},{"s":"盐田-2","h":11,"v":16.5},{"s":"盐田-2","h":12,"v":16.5},{"s":"盐田-2","h":13,"v":16.5},{"s":"盐田-2","h":14,"v":18},{"s":"盐田-2","h":15,"v":20},{"s":"盐田-2","h":16,"v":25},{"s":"盐田-2","h":17,"v":36},{"s":"盐田-2","h":18,"v":44.5},{"s":"盐田-2","h":19,"v":42.7},
{"s":"盐田-2","h":20,"v":37.6},{"s":"盐田-2","h":21,"v":36.8},{"s":"盐田-2","h":22,"v":40},{"s":"盐田-2","h":23,"v":43.9},{"s":"盐田-2","h":24,"v":43.0},{"s":"盐田-2","h":25,"v":40.3},{"s":"盐田-2","h":26,"v":36.9},{"s":"盐田-2","h":27,"v":33.3},{"s":"盐田-2","h":28,"v":31.8},{"s":"盐田-2","h":29,"v":30.0},
{"s":"盐田-2","h":30,"v":29.6},{"s":"盐田-2","h":31,"v":30.9},{"s":"盐田-2","h":32,"v":23.9},{"s":"盐田-2","h":33,"v":17.5},{"s":"盐田-2","h":34,"v":15.1},{"s":"盐田-2","h":35,"v":13.8},{"s":"盐田-2","h":36,"v":13.2},{"s":"盐田-2","h":37,"v":13.2},{"s":"盐田-2","h":38,"v":13.8},{"s":"盐田-2","h":39,"v":15.4},
{"s":"盐田-2","h":40,"v":18.4},{"s":"盐田-2","h":41,"v":25},{"s":"盐田-2","h":42,"v":37.9},{"s":"盐田-2","h":43,"v":37.4},{"s":"盐田-2","h":44,"v":32.1},{"s":"盐田-2","h":45,"v":26.6},{"s":"盐田-2","h":46,"v":26.9},{"s":"盐田-2","h":47,"v":27.2},{"s":"盐田-2","h":48,"v":23.9},{"s":"盐田-2","h":49,"v":19.9},
{"s":"盐田-2","h":50,"v":21.6},{"s":"盐田-2","h":51,"v":20.5},{"s":"盐田-2","h":52,"v":19.6},{"s":"盐田-2","h":53,"v":20.5},{"s":"盐田-2","h":54,"v":22.0},{"s":"盐田-2","h":55,"v":31.7},{"s":"盐田-2","h":56,"v":30.0},{"s":"盐田-2","h":57,"v":28.7},{"s":"盐田-2","h":58,"v":19.0},{"s":"盐田-2","h":59,"v":17.2},
{"s":"盐田-2","h":60,"v":16.0},{"s":"盐田-2","h":61,"v":15.4},{"s":"盐田-2","h":62,"v":15.7},{"s":"盐田-2","h":63,"v":17.5},{"s":"盐田-2","h":64,"v":26.9},{"s":"盐田-2","h":65,"v":33.0},{"s":"盐田-2","h":66,"v":41.8},{"s":"盐田-2","h":67,"v":41.0},{"s":"盐田-2","h":68,"v":35.4},{"s":"盐田-2","h":69,"v":32.4},
{"s":"盐田-2","h":70,"v":30.0},{"s":"盐田-2","h":71,"v":30.3},{"s":"盐田-2","h":72,"v":26.3},{"s":"盐田-2","h":73,"v":22.4},{"s":"盐田-2","h":74,"v":20.4},{"s":"盐田-2","h":75,"v":20.7},{"s":"盐田-2","h":76,"v":20.8},{"s":"盐田-2","h":77,"v":23.0},{"s":"盐田-2","h":78,"v":25.1},{"s":"盐田-2","h":79,"v":30.6},
{"s":"龙岗-2","h":0,"v":41.5},{"s":"龙岗-2","h":1,"v":30.6},{"s":"龙岗-2","h":2,"v":24.6},{"s":"龙岗-2","h":3,"v":24.5},{"s":"龙岗-2","h":4,"v":25.0},{"s":"龙岗-2","h":5,"v":26.3},{"s":"龙岗-2","h":6,"v":29.4},{"s":"龙岗-2","h":7,"v":37.6},{"s":"龙岗-2","h":8,"v":28.1},{"s":"龙岗-2","h":9,"v":21.4},
{"s":"龙岗-2","h":10,"v":17.5},{"s":"龙岗-2","h":11,"v":16.3},{"s":"龙岗-2","h":12,"v":15.2},{"s":"龙岗-2","h":13,"v":14.9},{"s":"龙岗-2","h":14,"v":15.5},{"s":"龙岗-2","h":15,"v":16.9},{"s":"龙岗-2","h":16,"v":20.8},{"s":"龙岗-2","h":17,"v":30.0},{"s":"龙岗-2","h":18,"v":43.9},{"s":"龙岗-2","h":19,"v":43.3},
{"s":"龙岗-2","h":20,"v":43.6},{"s":"龙岗-2","h":21,"v":44},{"s":"龙岗-2","h":22,"v":42},{"s":"龙岗-2","h":23,"v":44},{"s":"龙岗-2","h":24,"v":44.2},{"s":"龙岗-2","h":25,"v":41.5},{"s":"龙岗-2","h":26,"v":37.5},{"s":"龙岗-2","h":27,"v":33.6},{"s":"龙岗-2","h":28,"v":30.6},{"s":"龙岗-2","h":29,"v":28.9},
{"s":"龙岗-2","h":30,"v":29.7},{"s":"龙岗-2","h":31,"v":31.5},{"s":"龙岗-2","h":32,"v":24.8},{"s":"龙岗-2","h":33,"v":15.1},{"s":"龙岗-2","h":34,"v":13.5},{"s":"龙岗-2","h":35,"v":12.9},{"s":"龙岗-2","h":36,"v":12.9},{"s":"龙岗-2","h":37,"v":13.0},{"s":"龙岗-2","h":38,"v":13.5},{"s":"龙岗-2","h":39,"v":14.4},
{"s":"龙岗-2","h":40,"v":16.3},{"s":"龙岗-2","h":41,"v":24},{"s":"龙岗-2","h":42,"v":40.6},{"s":"龙岗-2","h":43,"v":42.6},{"s":"龙岗-2","h":44,"v":38.5},{"s":"龙岗-2","h":45,"v":33.6},{"s":"龙岗-2","h":46,"v":28.7},{"s":"龙岗-2","h":47,"v":30.0},{"s":"龙岗-2","h":48,"v":27.2},{"s":"龙岗-2","h":49,"v":24.8},
{"s":"龙岗-2","h":50,"v":23.3},{"s":"龙岗-2","h":51,"v":23.4},{"s":"龙岗-2","h":52,"v":23.2},{"s":"龙岗-2","h":53,"v":23.9},{"s":"龙岗-2","h":54,"v":26.0},{"s":"龙岗-2","h":55,"v":33.0},{"s":"龙岗-2","h":56,"v":26.3},{"s":"龙岗-2","h":57,"v":19.6},{"s":"龙岗-2","h":58,"v":15.7},{"s":"龙岗-2","h":59,"v":13.5},
{"s":"龙岗-2","h":60,"v":12.3},{"s":"龙岗-2","h":61,"v":12.7},{"s":"龙岗-2","h":62,"v":12.6},{"s":"龙岗-2","h":63,"v":13.5},{"s":"龙岗-2","h":64,"v":15.4},{"s":"龙岗-2","h":65,"v":22.0},{"s":"龙岗-2","h":66,"v":35.4},{"s":"龙岗-2","h":67,"v":41.0},{"s":"龙岗-2","h":68,"v":37.4},{"s":"龙岗-2","h":69,"v":35.4},
{"s":"龙岗-2","h":70,"v":34.7},{"s":"龙岗-2","h":71,"v":35.5},{"s":"龙岗-2","h":72,"v":32.5},{"s":"龙岗-2","h":73,"v":30.0},{"s":"龙岗-2","h":74,"v":26.9},{"s":"龙岗-2","h":75,"v":26.3},{"s":"龙岗-2","h":76,"v":26.6},{"s":"龙岗-2","h":77,"v":27.8},{"s":"龙岗-2","h":78,"v":28.7},{"s":"龙岗-2","h":79,"v":33.3},
{"s":"大鹏-2","h":0,"v":12.9},{"s":"大鹏-2","h":1,"v":12.0},{"s":"大鹏-2","h":2,"v":11.4},{"s":"大鹏-2","h":3,"v":11.7},{"s":"大鹏-2","h":4,"v":12.0},{"s":"大鹏-2","h":5,"v":12.6},{"s":"大鹏-2","h":6,"v":13.9},{"s":"大鹏-2","h":7,"v":15.1},{"s":"大鹏-2","h":8,"v":12.3},{"s":"大鹏-2","h":9,"v":10.2},
{"s":"大鹏-2","h":10,"v":8.4},{"s":"大鹏-2","h":11,"v":7.2},{"s":"大鹏-2","h":12,"v":6.3},{"s":"大鹏-2","h":13,"v":5.6},{"s":"大鹏-2","h":14,"v":5.6},{"s":"大鹏-2","h":15,"v":6.3},{"s":"大鹏-2","h":16,"v":7.5},{"s":"大鹏-2","h":17,"v":9.6},{"s":"大鹏-2","h":18,"v":11.4},{"s":"大鹏-2","h":19,"v":12.6},
{"s":"大鹏-2","h":20,"v":14.2},{"s":"大鹏-2","h":21,"v":18.4},{"s":"大鹏-2","h":22,"v":23.9},{"s":"大鹏-2","h":23,"v":27.8},{"s":"大鹏-2","h":24,"v":27.8},{"s":"大鹏-2","h":25,"v":26.6},{"s":"大鹏-2","h":26,"v":24.5},{"s":"大鹏-2","h":27,"v":22.4},{"s":"大鹏-2","h":28,"v":20.1},{"s":"大鹏-2","h":29,"v":18.4},
{"s":"大鹏-2","h":30,"v":17.5},{"s":"大鹏-2","h":31,"v":17.1},{"s":"大鹏-2","h":32,"v":12.4},{"s":"大鹏-2","h":33,"v":8.1},{"s":"大鹏-2","h":34,"v":6.7},{"s":"大鹏-2","h":35,"v":5.9},{"s":"大鹏-2","h":36,"v":5.1},{"s":"大鹏-2","h":37,"v":4.9},{"s":"大鹏-2","h":38,"v":4.9},{"s":"大鹏-2","h":39,"v":5.3},
{"s":"大鹏-2","h":40,"v":6.0},{"s":"大鹏-2","h":41,"v":7.2},{"s":"大鹏-2","h":42,"v":10.2},{"s":"大鹏-2","h":43,"v":11.1},{"s":"大鹏-2","h":44,"v":10.2},{"s":"大鹏-2","h":45,"v":8.8},{"s":"大鹏-2","h":46,"v":8.7},{"s":"大鹏-2","h":47,"v":9.8},{"s":"大鹏-2","h":48,"v":9.8},{"s":"大鹏-2","h":49,"v":9.6},
{"s":"大鹏-2","h":50,"v":9.6},{"s":"大鹏-2","h":51,"v":9.8},{"s":"大鹏-2","h":52,"v":8.6},{"s":"大鹏-2","h":53,"v":10.4},{"s":"大鹏-2","h":54,"v":10.5},{"s":"大鹏-2","h":55,"v":12.9},{"s":"大鹏-2","h":56,"v":9.9},{"s":"大鹏-2","h":57,"v":7.8},{"s":"大鹏-2","h":58,"v":5.9},{"s":"大鹏-2","h":59,"v":5.3},
{"s":"大鹏-2","h":60,"v":4.9},{"s":"大鹏-2","h":61,"v":4.7},{"s":"大鹏-2","h":62,"v":4.4},{"s":"大鹏-2","h":63,"v":4.1},{"s":"大鹏-2","h":64,"v":5.0},{"s":"大鹏-2","h":65,"v":6.9},{"s":"大鹏-2","h":66,"v":9.0},{"s":"大鹏-2","h":67,"v":10.5},{"s":"大鹏-2","h":68,"v":10.2},{"s":"大鹏-2","h":69,"v":10.6},
{"s":"大鹏-2","h":70,"v":10.8},{"s":"大鹏-2","h":71,"v":11.0},{"s":"大鹏-2","h":72,"v":10.5},{"s":"大鹏-2","h":73,"v":10.0},{"s":"大鹏-2","h":74,"v":9.6},{"s":"大鹏-2","h":75,"v":10.5},{"s":"大鹏-2","h":76,"v":11.2},{"s":"大鹏-2","h":77,"v":11.4},{"s":"大鹏-2","h":78,"v":11.4},{"s":"大鹏-2","h":79,"v":12.3},
{"s":"龙华-2","h":0,"v":72},{"s":"龙华-2","h":1,"v":58.8},{"s":"龙华-2","h":2,"v":45.4},{"s":"龙华-2","h":3,"v":43.5},{"s":"龙华-2","h":4,"v":42.1},{"s":"龙华-2","h":5,"v":43.2},{"s":"龙华-2","h":6,"v":45.8},{"s":"龙华-2","h":7,"v":53.4},{"s":"龙华-2","h":8,"v":43},{"s":"龙华-2","h":9,"v":33.5},
{"s":"龙华-2","h":10,"v":28},{"s":"龙华-2","h":11,"v":25},{"s":"龙华-2","h":12,"v":24},{"s":"龙华-2","h":13,"v":24.5},{"s":"龙华-2","h":14,"v":26},{"s":"龙华-2","h":15,"v":29},{"s":"龙华-2","h":16,"v":37},{"s":"龙华-2","h":17,"v":52},{"s":"龙华-2","h":18,"v":75},{"s":"龙华-2","h":19,"v":88},
{"s":"龙华-2","h":20,"v":79.5},{"s":"龙华-2","h":21,"v":72.2},{"s":"龙华-2","h":22,"v":73.1},{"s":"龙华-2","h":23,"v":67.0},{"s":"龙华-2","h":24,"v":61.6},{"s":"龙华-2","h":25,"v":56.7},{"s":"龙华-2","h":26,"v":51.9},{"s":"龙华-2","h":27,"v":47.0},{"s":"龙华-2","h":28,"v":42},{"s":"龙华-2","h":29,"v":38},
{"s":"龙华-2","h":30,"v":37.5},{"s":"龙华-2","h":31,"v":37.5},{"s":"龙华-2","h":32,"v":32},{"s":"龙华-2","h":33,"v":25.5},{"s":"龙华-2","h":34,"v":21},{"s":"龙华-2","h":35,"v":19},{"s":"龙华-2","h":36,"v":18.5},{"s":"龙华-2","h":37,"v":18},{"s":"龙华-2","h":38,"v":18.5},{"s":"龙华-2","h":39,"v":20.5},
{"s":"龙华-2","h":40,"v":26},{"s":"龙华-2","h":41,"v":45},{"s":"龙华-2","h":42,"v":70.4},{"s":"龙华-2","h":43,"v":79.3},{"s":"龙华-2","h":44,"v":74.0},{"s":"龙华-2","h":45,"v":66.4},{"s":"龙华-2","h":46,"v":58.5},{"s":"龙华-2","h":47,"v":55.5},{"s":"龙华-2","h":48,"v":48.8},{"s":"龙华-2","h":49,"v":39},
{"s":"龙华-2","h":50,"v":36.7},{"s":"龙华-2","h":51,"v":35.1},{"s":"龙华-2","h":52,"v":35.7},{"s":"龙华-2","h":53,"v":33.0},{"s":"龙华-2","h":54,"v":34.2},{"s":"龙华-2","h":55,"v":48},{"s":"龙华-2","h":56,"v":40},{"s":"龙华-2","h":57,"v":28},{"s":"龙华-2","h":58,"v":23.9},{"s":"龙华-2","h":59,"v":22.7},
{"s":"龙华-2","h":60,"v":22.5},{"s":"龙华-2","h":61,"v":21.4},{"s":"龙华-2","h":62,"v":22.7},{"s":"龙华-2","h":63,"v":23.9},{"s":"龙华-2","h":64,"v":30},{"s":"龙华-2","h":65,"v":42},{"s":"龙华-2","h":66,"v":64.0},{"s":"龙华-2","h":67,"v":79.8},{"s":"龙华-2","h":68,"v":76.8},{"s":"龙华-2","h":69,"v":71.0},
{"s":"龙华-2","h":70,"v":67.0},{"s":"龙华-2","h":71,"v":65.3},{"s":"龙华-2","h":72,"v":60.1},{"s":"龙华-2","h":73,"v":53.1},{"s":"龙华-2","h":74,"v":46.4},{"s":"龙华-2","h":75,"v":44.9},{"s":"龙华-2","h":76,"v":44.3},{"s":"龙华-2","h":77,"v":46},{"s":"龙华-2","h":78,"v":48},{"s":"龙华-2","h":79,"v":50.9},
{"s":"均值","h":0,"v":31.5},{"s":"均值","h":1,"v":26.3},{"s":"均值","h":2,"v":23.9},{"s":"均值","h":3,"v":23.3},{"s":"均值","h":4,"v":23.3},{"s":"均值","h":5,"v":24.0},{"s":"均值","h":6,"v":26.0},{"s":"均值","h":7,"v":30.8},{"s":"均值","h":8,"v":23},{"s":"均值","h":9,"v":18.4},
{"s":"均值","h":10,"v":15.0},{"s":"均值","h":11,"v":14.0},{"s":"均值","h":12,"v":13.4},{"s":"均值","h":13,"v":13.1},{"s":"均值","h":14,"v":13.5},{"s":"均值","h":15,"v":14.5},{"s":"均值","h":16,"v":16.9},{"s":"均值","h":17,"v":23.3},{"s":"均值","h":18,"v":32.4},{"s":"均值","h":19,"v":37.4},
{"s":"均值","h":20,"v":35.4},{"s":"均值","h":21,"v":34.3},{"s":"均值","h":22,"v":37.0},{"s":"均值","h":23,"v":39.7},{"s":"均值","h":24,"v":39.1},{"s":"均值","h":25,"v":37.0},{"s":"均值","h":26,"v":33.9},{"s":"均值","h":27,"v":30.9},{"s":"均值","h":28,"v":28.1},{"s":"均值","h":29,"v":26.3},
{"s":"均值","h":30,"v":25.2},{"s":"均值","h":31,"v":25.2},{"s":"均值","h":32,"v":19.0},{"s":"均值","h":33,"v":14.5},{"s":"均值","h":34,"v":12.3},{"s":"均值","h":35,"v":11.4},{"s":"均值","h":36,"v":11.0},{"s":"均值","h":37,"v":11.0},{"s":"均值","h":38,"v":11.2},{"s":"均值","h":39,"v":11.7},
{"s":"均值","h":40,"v":14.2},{"s":"均值","h":41,"v":19.6},{"s":"均值","h":42,"v":28.6},{"s":"均值","h":43,"v":31.9},{"s":"均值","h":44,"v":30.4},{"s":"均值","h":45,"v":27.5},{"s":"均值","h":46,"v":24.8},{"s":"均值","h":47,"v":24.2},{"s":"均值","h":48,"v":22.4},{"s":"均值","h":49,"v":20.5},
{"s":"均值","h":50,"v":19.8},{"s":"均值","h":51,"v":19.7},{"s":"均值","h":52,"v":19.7},{"s":"均值","h":53,"v":20.5},{"s":"均值","h":54,"v":22.0},{"s":"均值","h":55,"v":26.6},{"s":"均值","h":56,"v":21.4},{"s":"均值","h":57,"v":16.0},{"s":"均值","h":58,"v":12.9},{"s":"均值","h":59,"v":11.4},
{"s":"均值","h":60,"v":10.6},{"s":"均值","h":61,"v":10.5},{"s":"均值","h":62,"v":10.5},{"s":"均值","h":63,"v":11.0},{"s":"均值","h":64,"v":13.2},{"s":"均值","h":65,"v":17.5},{"s":"均值","h":66,"v":26.0},{"s":"均值","h":67,"v":32.4},{"s":"均值","h":68,"v":31.2},{"s":"均值","h":69,"v":28.6},
{"s":"均值","h":70,"v":27.2},{"s":"均值","h":71,"v":26.8},{"s":"均值","h":72,"v":24.5},{"s":"均值","h":73,"v":21.4},{"s":"均值","h":74,"v":19.6},{"s":"均值","h":75,"v":19.1},{"s":"均值","h":76,"v":19.3},{"s":"均值","h":77,"v":20.2},{"s":"均值","h":78,"v":21.6},{"s":"均值","h":79,"v":24.3}
]},
"layer":[
{"transform":[{"filter":"datum.s !== '均值'"}],
 "mark":{"type":"line","strokeWidth":2},
 "encoding":{
  "x":{"field":"h","type":"quantitative","scale":{"domain":[0,79],"nice":false,"zero":false},
   "axis":{"orient":"bottom","values":[0,4,8,12,16,20,24,28,32,36,40,44,48,52,56,60,64,68,72,76,79],"labelExpr":"datum.value == 79 ? '08' : (datum.value % 24 == 0 ? '2-' + (17 + datum.value / 24) + ' 00' : (datum.value % 24 < 10 ? '0' : '') + (datum.value % 24))","labelFlush":false,"labelPadding":30,"title":"Date","titlePadding":20}},
  "y":{"field":"v","type":"quantitative","scale":{"domain":[0,100],"nice":false},
   "axis":{"orient":"left","values":[0,20,40,60,80,100],"labelPadding":25,"title":"NO₂ concentrations [μg m⁻³]","titlePadding":20}},
  "color":{"field":"s","type":"nominal",
   "scale":{"domain":["福田","罗湖","南山","盐田","龙岗","宝安","大鹏","龙华","坪山","福田-2","南山-2","盐田-2","龙岗-2","大鹏-2","龙华-2"],
            "range":["#CD853F","#6A5ACD","#87CEFA","#4682B4","#FFD700","#FF8C00","#9ACD32","#DA70D6","#20B2AA","#CD853F","#87CEFA","#4682B4","#FFD700","#9ACD32","#DA70D6"]},
   "legend":{"values":["福田","罗湖","南山","盐田","龙岗","宝安","大鹏","龙华","坪山"],"title":null,"orient":"none","legendX":117,"legendY":-84,"direction":"horizontal","columns":9,"columnPadding":30,"padding":0,
    "labelFont":"Noto Sans CJK SC","labelFontSize":23,"labelColor":"#000000","labelOffset":12,"symbolSize":1806,"symbolStrokeWidth":2,"symbolFillColor":"transparent",
    "encode":{"symbols":{"update":{"fill":{"value":"transparent"},"shape":{"signal":"datum.value === '福田' ? 'M-1,0H1M0.26,0A0.26,0.26 0 1,1 -0.26,0A0.26,0.26 0 1,1 0.26,0' : datum.value === '南山' ? 'M-1,0H1M0,-0.24V0.24' : datum.value === '盐田' ? 'M-1,0H1M0,-0.25V0.25M-0.18,-0.18L0.18,0.18M-0.18,0.18L0.18,-0.18' : datum.value === '龙岗' ? 'M-1,0H1M0,-0.28L0.31,0.21H-0.31Z' : datum.value === '大鹏' ? 'M-1,0H1M0,-0.29L0.22,0L0,0.29L-0.22,0Z' : datum.value === '龙华' ? 'M-1,0H1M-0.21,-0.21H0.21V0.21H-0.21Z' : 'M-1,0H1'"}}}}}}
 }},
{"transform":[{"filter":"datum.s === '均值'"}],
 "mark":{"type":"line","strokeWidth":4,"color":"#000000"},
 "encoding":{"x":{"field":"h","type":"quantitative","axis":null},"y":{"field":"v","type":"quantitative","axis":null}}},
{"transform":[{"filter":"indexof(['福田','南山','盐田','龙岗','大鹏','龙华'], datum.s) >= 0"}],
 "mark":{"type":"point","filled":false,"strokeWidth":2,"size":196,"opacity":1},
 "encoding":{"x":{"field":"h","type":"quantitative","axis":null},"y":{"field":"v","type":"quantitative","axis":null},
  "color":{"field":"s","type":"nominal"},
  "shape":{"field":"s","type":"nominal","legend":null,"scale":{"domain":["福田","南山","盐田","龙岗","大鹏","龙华"],
   "range":["M0.84,0A0.84,0.84 0 1,1 -0.84,0A0.84,0.84 0 1,1 0.84,0Z","M-0.76,0H0.76M0,-0.76V0.76","M-0.8,0H0.8M0,-0.8V0.8M-0.57,-0.57L0.57,0.57M-0.57,0.57L0.57,-0.57","M0,-0.93L1,0.72H-1Z","M0,-0.93L0.72,0L0,0.93L-0.72,0Z","M-0.68,-0.68H0.68V0.68H-0.68Z"]}}}},
{"data":{"values":[{"h":18.07,"v":81.9,"t":"Daily average of NO₂"},{"h":22.0,"v":75.1,"t":"2-17 : 26"},{"h":22.0,"v":69.2,"t":"2-18 : 20"},{"h":22.0,"v":63.3,"t":"2-19 : 27"}]},
 "mark":{"type":"text","align":"left","baseline":"alphabetic","fontSize":22,"font":"DejaVu Sans","color":"#000000"},
 "encoding":{"x":{"field":"h","type":"quantitative","axis":null},"y":{"field":"v","type":"quantitative","axis":null},"text":{"field":"t"}}},
{"transform":[{"filter":"datum.s === '均值'"}],
 "mark":{"type":"point","opacity":0},
 "encoding":{"x":{"field":"h","type":"quantitative","axis":{"orient":"top","values":[0,4,8,12,16,20,24,28,32,36,40,44,48,52,56,60,64,68,72,76,79],"labels":false,"title":null}},
  "y":{"field":"v","type":"quantitative","axis":{"orient":"right","values":[0,20,40,60,80,100],"labels":false,"title":null}}}}
],
"resolve":{"axis":{"x":"independent","y":"independent"}}
}
